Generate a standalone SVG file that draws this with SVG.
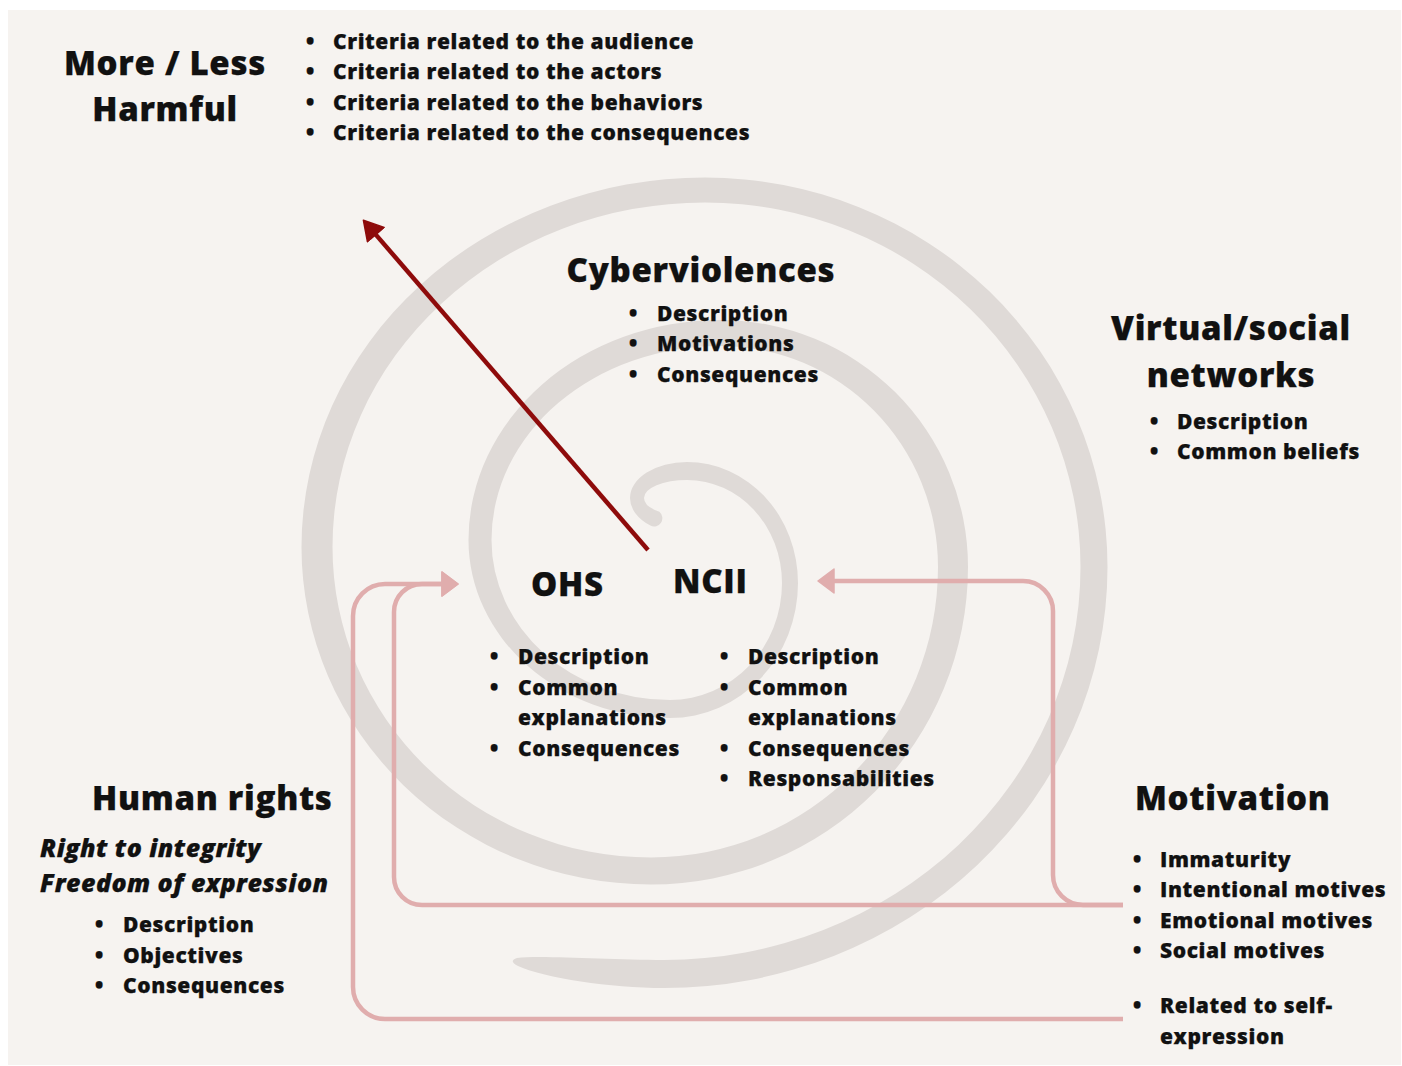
<svg xmlns="http://www.w3.org/2000/svg" width="1402" height="1066" viewBox="0 0 1402 1066">
<style>
.t{font-family:"Open Sans","Noto Sans","DejaVu Sans",sans-serif;font-weight:800;fill:#111;stroke:#111;stroke-width:0.25}
.h{font-size:33px;letter-spacing:0.7px}
.li{font-size:21px;letter-spacing:0.6px}
.it{font-size:25px;font-style:italic;letter-spacing:0.45px}
.mid{text-anchor:middle}
.pink{fill:none;stroke:#e0adad;stroke-width:4.5}
.red{fill:none;stroke:#8e0b0b;stroke-width:4.5}
</style>
<defs>
<marker id="pinkHead" markerUnits="userSpaceOnUse" markerWidth="18" markerHeight="26" viewBox="-1 -1 18 26" refX="0" refY="12" orient="auto">
<path d="M0 0 L16 12 L0 24 Z" fill="#e0adad" stroke="#e0adad" stroke-width="1.5" stroke-linejoin="round"/>
</marker>
<marker id="redHead" markerUnits="userSpaceOnUse" markerWidth="22" markerHeight="24" viewBox="-1 -1 22 24" refX="0" refY="11" orient="auto">
<path d="M0 0 L19 11 L0 22 Z" fill="#8e0b0b" stroke="#8e0b0b" stroke-width="1.5" stroke-linejoin="round"/>
</marker>
</defs>
<rect x="8" y="10" width="1393" height="1055" fill="#f6f3f0"/>
<g id="spiral">
<path fill="#dfdad7" d="M 518 966 C 545 978 610 988 664 988 A 443.5 421 0 0 0 1107.5 567 A 402.5 389.5 0 0 0 705 177.5 A 403.5 369.5 0 0 0 301.5 547 A 349.5 337.5 0 0 0 651 884.5 A 317 317.5 0 0 0 968 567 A 248 247 0 0 0 720 320 A 251.5 220 0 0 0 468.5 540 A 201.5 178 0 0 0 670 718 A 128 135 0 0 0 798 583 A 111 121 0 0 0 687 462 A 57 36 0 0 0 630 498 A 57 36 0 0 0 650.4 525.6 A 8.3 8.3 0 0 0 659.4 511.8 A 43 18 0 0 1 644 498 A 43 18 0 0 1 687 480 A 95 103 0 0 1 782 583 A 112 117 0 0 1 670 700 A 178.5 160 0 0 1 491.5 540 A 228.5 194 0 0 1 720 346 A 218 221 0 0 1 938 567 A 287 290.5 0 0 1 651 857.5 A 318.5 310.5 0 0 1 332.5 547 A 372.5 344.5 0 0 1 705 202.5 A 375.5 364.5 0 0 1 1080.5 567 A 416.5 393 0 0 1 664 960 C 610 960 540 955 517 958 Q 508 961 518 966 Z"/>
</g>
<g id="connectors">
<path class="red" d="M 648 550 L 375.8 234.6" marker-end="url(#redHead)"/>
<path class="pink" d="M 1123 905 H 422 A 28 28 0 0 1 394 877 V 612 A 28 28 0 0 1 422 584 H 442" marker-end="url(#pinkHead)"/>
<path class="pink" d="M 1123 905 H 1083 A 30 30 0 0 1 1053 875 V 611 A 30 30 0 0 0 1023 581 H 834" marker-end="url(#pinkHead)"/>
<path class="pink" d="M 1123 1019 H 385 A 32 32 0 0 1 353 987 V 616 A 32 32 0 0 1 385 584 H 442" marker-end="url(#pinkHead)"/>
</g>
<g id="node-harmful">
<text class="t h mid" x="165" y="75">More / Less</text>
<text class="t h mid" x="165" y="121">Harmful</text>
<text class="t li" x="306" y="49">•</text><text class="t li" x="333" y="49">Criteria related to the audience</text>
<text class="t li" x="306" y="79">•</text><text class="t li" x="333" y="79">Criteria related to the actors</text>
<text class="t li" x="306" y="110">•</text><text class="t li" x="333" y="110">Criteria related to the behaviors</text>
<text class="t li" x="306" y="140">•</text><text class="t li" x="333" y="140">Criteria related to the consequences</text>
</g>
<g id="node-cyberviolences">
<text class="t h mid" x="701" y="282">Cyberviolences</text>
<text class="t li" x="629" y="321">•</text><text class="t li" x="657" y="321">Description</text>
<text class="t li" x="629" y="351">•</text><text class="t li" x="657" y="351">Motivations</text>
<text class="t li" x="629" y="382">•</text><text class="t li" x="657" y="382">Consequences</text>
</g>
<g id="node-networks">
<text class="t h mid" x="1231" y="340">Virtual/social</text>
<text class="t h mid" x="1231" y="387">networks</text>
<text class="t li" x="1150" y="429">•</text><text class="t li" x="1177" y="429">Description</text>
<text class="t li" x="1150" y="459">•</text><text class="t li" x="1177" y="459">Common beliefs</text>
</g>
<g id="node-ohs">
<text class="t h" x="531" y="596">OHS</text>
<text class="t li" x="490" y="664">•</text><text class="t li" x="518" y="664">Description</text>
<text class="t li" x="490" y="695">•</text><text class="t li" x="518" y="695">Common</text>
<text class="t li" x="518" y="725">explanations</text>
<text class="t li" x="490" y="756">•</text><text class="t li" x="518" y="756">Consequences</text>
</g>
<g id="node-ncii">
<text class="t h" x="673" y="593">NCII</text>
<text class="t li" x="720" y="664">•</text><text class="t li" x="748" y="664">Description</text>
<text class="t li" x="720" y="695">•</text><text class="t li" x="748" y="695">Common</text>
<text class="t li" x="748" y="725">explanations</text>
<text class="t li" x="720" y="756">•</text><text class="t li" x="748" y="756">Consequences</text>
<text class="t li" x="720" y="786">•</text><text class="t li" x="748" y="786">Responsabilities</text>
</g>
<g id="node-human-rights">
<text class="t h" x="92" y="810">Human rights</text>
<text class="t it" x="40" y="857">Right to integrity</text>
<text class="t it" x="40" y="892">Freedom of expression</text>
<text class="t li" x="95" y="932">•</text><text class="t li" x="123" y="932">Description</text>
<text class="t li" x="95" y="963">•</text><text class="t li" x="123" y="963">Objectives</text>
<text class="t li" x="95" y="993">•</text><text class="t li" x="123" y="993">Consequences</text>
</g>
<g id="node-motivation">
<text class="t h" x="1135" y="810">Motivation</text>
<text class="t li" x="1133" y="867">•</text><text class="t li" x="1160" y="867">Immaturity</text>
<text class="t li" x="1133" y="897">•</text><text class="t li" x="1160" y="897">Intentional motives</text>
<text class="t li" x="1133" y="928">•</text><text class="t li" x="1160" y="928">Emotional motives</text>
<text class="t li" x="1133" y="958">•</text><text class="t li" x="1160" y="958">Social motives</text>
<text class="t li" x="1133" y="1013">•</text><text class="t li" x="1160" y="1013">Related to self-</text>
<text class="t li" x="1160" y="1044">expression</text>
</g>
</svg>
